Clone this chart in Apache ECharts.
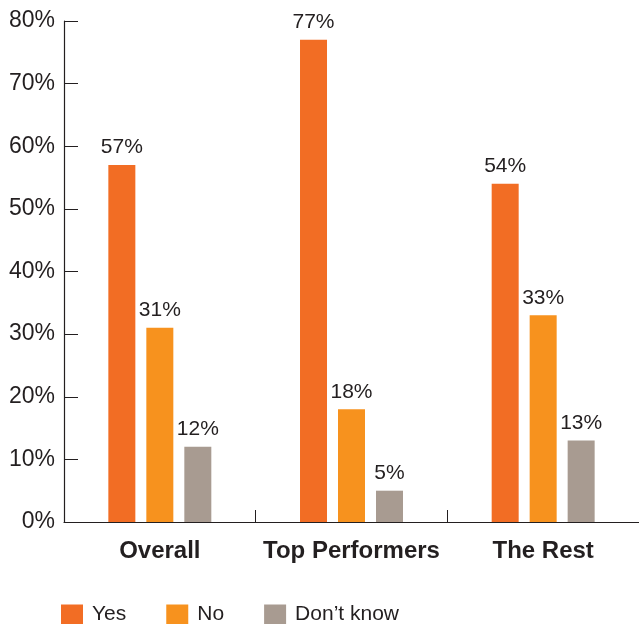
<!DOCTYPE html>
<html><head><meta charset="utf-8">
<script src="https://cdn.jsdelivr.net/npm/echarts@6/dist/echarts.min.js"></script>
<style>html,body{margin:0;padding:0;background:#fff}#c{width:639px;height:624px}</style>
</head><body><div id="c"></div>
<script>
const categories = ['Overall', 'Top Performers', 'The Rest'];
const seriesNames = ['Yes', 'No', 'Don\u2019t know'];
const yesValues = [57, 77, 54];
const noValues = [31, 18, 33];
const dkValues = [12, 5, 13];
const yTicks = [0, 10, 20, 30, 40, 50, 60, 70, 80];

const colors = ['#F26D24', '#F7921E', '#A89B91'];
const font = '"Liberation Sans", Arial, Helvetica, sans-serif';
const textColor = '#231F20';

function mk(name, data, color) {
  return {
    name: name, type: 'bar', data: data, barWidth: 27, barGap: '40.7%',
    itemStyle: { color: color },
    label: { show: true, position: 'top', distance: 7, formatter: '{c}%',
      fontFamily: font, fontSize: 21, color: textColor }
  };
}

const chart = echarts.init(document.getElementById('c'), null, { renderer: 'canvas' });
chart.setOption({
  animation: false,
  grid: { left: 64, right: 0, top: 21, bottom: 102, containLabel: false },
  legend: {
    left: 61, top: 604, padding: 0, itemWidth: 22, itemHeight: 20, itemGap: 40,
    icon: 'rect',
    textStyle: { fontFamily: font, fontSize: 21, color: textColor, padding: [0, 0, 0, 4] },
    data: seriesNames
  },
  xAxis: {
    type: 'category', data: categories,
    axisLine: { lineStyle: { color: textColor, width: 1.2 } },
    axisTick: { show: true, inside: true, length: 12, interval: 0, lineStyle: { color: textColor } },
    axisLabel: { interval: 0, fontFamily: font, fontSize: 24, fontWeight: 'bold', color: textColor, margin: 17 }
  },
  yAxis: {
    type: 'value', min: yTicks[0], max: yTicks[yTicks.length - 1], interval: 10,
    axisLine: { show: true, lineStyle: { color: textColor, width: 1.2 } },
    axisTick: { show: true, inside: true, length: 14, lineStyle: { color: textColor } },
    splitLine: { show: false },
    axisLabel: { formatter: '{value}%', fontFamily: font, fontSize: 23, color: textColor, margin: 9 }
  },
  series: [
    mk(seriesNames[0], yesValues, colors[0]),
    mk(seriesNames[1], noValues, colors[1]),
    mk(seriesNames[2], dkValues, colors[2])
  ]
});
</script></body></html>
